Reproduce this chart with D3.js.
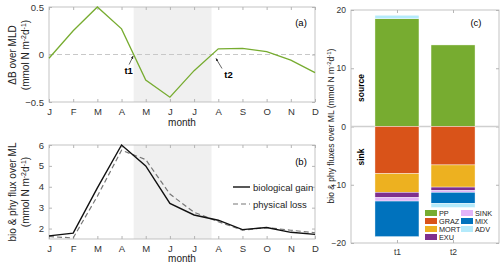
<!DOCTYPE html>
<html>
<head>
<meta charset="utf-8">
<script src="https://cdn.jsdelivr.net/npm/d3@7"></script>
<style>
  body { margin: 0; background: #fff; }
  svg text { font-family: "Liberation Sans", Arial, sans-serif; }
</style>
</head>
<body>
<div id="chart"></div>
<script>
// data
const months = ["J","F","M","A","M","J","J","A","S","O","N","D"];
const deltaB = [-0.04, 0.25, 0.5, 0.27, -0.27, -0.45, -0.17, 0.06, 0.065, 0.03, -0.06, -0.19];
const bioGain = [1.65, 1.78, 3.95, 6.0, 5.0, 3.2, 2.65, 2.4, 1.95, 2.05, 1.82, 1.72];
const phyLoss = [1.62, 1.55, 3.55, 5.75, 5.3, 3.65, 2.78, 2.33, 1.92, 2.05, 1.92, 1.8];
const t1 = 3.5, t2 = 6.72;
const timeLabels = ["t1", "t2"];
const fluxNames = ["PP", "GRAZ", "MORT", "EXU", "SINK", "MIX", "ADV"];
const fluxT1 = [18.5, -8.1, -3.2, -0.9, -0.6, -6.1, 0.6];
const fluxT2 = [14.0, -6.6, -3.8, -0.6, -0.3, -1.9, -0.7];
const fluxColors = ["#77AC30", "#D95319", "#EDB120", "#7E2F8E", "#E2B4F8", "#0072BD", "#B4EAFB"];

const W = 500, H = 268;
const frameCol = "#b5b5b5", tickTxt = "#333";

const svg = d3.select("#chart").append("svg")
  .attr("width", W).attr("height", H);

// helper to draw a boxed axes like matlab
function boxAxes(x, y, xTicks, xFmt, yTicks, yFmt) {
  const [x0, x1] = x.range(), [y1, y0] = y.range();
  const g = svg.append("g");
  const styleAx = sel => {
    sel.select(".domain").attr("stroke", "none");
    sel.selectAll(".tick line").attr("stroke", frameCol);
    sel.selectAll(".tick text").attr("fill", tickTxt).attr("font-size", 9.5);
  };
  g.append("g").attr("transform", `translate(0,${y1})`)
    .call(d3.axisBottom(x).tickValues(xTicks).tickFormat(xFmt).tickSizeInner(-3).tickSizeOuter(0).tickPadding(6))
    .call(styleAx);
  g.append("g").attr("transform", `translate(0,${y0})`)
    .call(d3.axisTop(x).tickValues(xTicks).tickFormat("").tickSizeInner(-3).tickSizeOuter(0))
    .call(styleAx);
  g.append("g").attr("transform", `translate(${x0},0)`)
    .call(d3.axisLeft(y).tickValues(yTicks).tickFormat(yFmt).tickSizeInner(-3).tickSizeOuter(0).tickPadding(5))
    .call(styleAx);
  g.append("g").attr("transform", `translate(${x1},0)`)
    .call(d3.axisRight(y).tickValues(yTicks).tickFormat("").tickSizeInner(-3).tickSizeOuter(0))
    .call(styleAx);
  g.append("rect").attr("x", x0).attr("y", y0).attr("width", x1 - x0).attr("height", y1 - y0)
    .attr("fill", "none").attr("stroke", frameCol).attr("stroke-width", 0.8);
  return g;
}

function unitLabel(sel) {
  sel.append("tspan").text("(mmol N m");
  sel.append("tspan").attr("baseline-shift", "super").attr("font-size", 7).text("-2");
  sel.append("tspan").text("d");
  sel.append("tspan").attr("baseline-shift", "super").attr("font-size", 7).text("-1");
  sel.append("tspan").text(")");
}

const mIdx = d3.range(12);
const xm = d3.scaleLinear().domain([0, 11]).range([49, 315]);

// panel (a)
const ya = d3.scaleLinear().domain([-0.5, 0.5]).range([102, 7]);
svg.append("rect").attr("x", xm(t1)).attr("y", 7).attr("width", xm(t2) - xm(t1)).attr("height", 95)
  .attr("fill", "#f0f0f0");
svg.append("line").attr("x1", xm(0)).attr("x2", xm(11)).attr("y1", ya(0)).attr("y2", ya(0))
  .attr("stroke", "#c8c8c8").attr("stroke-dasharray", "5,3").attr("stroke-width", 1);
boxAxes(xm, ya, mIdx, i => months[i], [-0.5, 0, 0.5], d => d === 0 ? "0" : d3.format(".1f")(d));
svg.append("path").datum(deltaB)
  .attr("d", d3.line().x((d, i) => xm(i)).y(d => ya(d)))
  .attr("fill", "none").attr("stroke", "#77AC30").attr("stroke-width", 1.3);

// arrows for t1,t2
svg.append("defs").append("marker").attr("id", "ah").attr("viewBox", "0 0 10 10")
  .attr("refX", 9).attr("refY", 5).attr("markerWidth", 4.5).attr("markerHeight", 4.5)
  .attr("orient", "auto").append("path").attr("d", "M0,1L10,5L0,9z").attr("fill", "#222");
// [time, head dx, head dy, tail dx, tail dy, label, label dx, label dy]
[[t1, -0.5, 1.5, -4.5, 10, "t1", -5, 19], [t2, 4.5, 4, 10.5, 14, "t2", 17, 23]].forEach(a => {
  const [t, hx, hy, tx, ty, lab, lx, ly] = a;
  const px = xm(t), py = ya(0);
  svg.append("line").attr("x1", px + tx).attr("y1", py + ty).attr("x2", px + hx).attr("y2", py + hy)
    .attr("stroke", "#222").attr("stroke-width", 0.7).attr("marker-end", "url(#ah)");
  svg.append("text").attr("x", px + lx).attr("y", py + ly).attr("text-anchor", "middle")
    .attr("font-size", 9.5).attr("font-weight", "bold").text(lab);
});
svg.append("text").attr("x", 301).attr("y", 26).attr("text-anchor", "middle").attr("font-size", 9.5).text("(a)");
svg.append("text").attr("x", (49 + 315) / 2).attr("y", 126).attr("text-anchor", "middle")
  .attr("font-size", 10).attr("fill", "#222").text("month");
const la = svg.append("text").attr("transform", `translate(16,55) rotate(-90)`)
  .attr("text-anchor", "middle").attr("font-size", 10).attr("fill", "#222");
la.append("tspan").attr("x", 0).attr("dy", 0).text("ΔB over MLD");
const la2 = svg.append("text").attr("transform", `translate(29,55) rotate(-90)`)
  .attr("text-anchor", "middle").attr("font-size", 10).attr("fill", "#222");
unitLabel(la2);

// panel (b)
const yb = d3.scaleLinear().domain([1.5, 6]).range([239, 145]);
svg.append("rect").attr("x", xm(t1)).attr("y", 145).attr("width", xm(t2) - xm(t1)).attr("height", 94)
  .attr("fill", "#f0f0f0");
boxAxes(xm, yb, mIdx, i => months[i], [2, 3, 4, 5, 6], d3.format("d"));
const lineB = d3.line().x((d, i) => xm(i)).y(d => yb(d));
svg.append("path").datum(phyLoss).attr("d", lineB)
  .attr("fill", "none").attr("stroke", "#777").attr("stroke-width", 1.2).attr("stroke-dasharray", "5,3");
svg.append("path").datum(bioGain).attr("d", lineB)
  .attr("fill", "none").attr("stroke", "#111").attr("stroke-width", 1.4);
svg.append("line").attr("x1", 233).attr("x2", 250).attr("y1", 187).attr("y2", 187)
  .attr("stroke", "#111").attr("stroke-width", 1.4);
svg.append("line").attr("x1", 233).attr("x2", 250).attr("y1", 204).attr("y2", 204)
  .attr("stroke", "#777").attr("stroke-width", 1.2).attr("stroke-dasharray", "5,3");
svg.append("text").attr("x", 253).attr("y", 190.5).attr("font-size", 9.5).attr("fill", "#222").text("biological gain");
svg.append("text").attr("x", 253).attr("y", 207.5).attr("font-size", 9.5).attr("fill", "#222").text("physical loss");
svg.append("text").attr("x", 301).attr("y", 165).attr("text-anchor", "middle").attr("font-size", 9.5).text("(b)");
svg.append("text").attr("x", (49 + 315) / 2).attr("y", 262).attr("text-anchor", "middle")
  .attr("font-size", 10).attr("fill", "#222").text("month");
const lb = svg.append("text").attr("transform", `translate(16,192) rotate(-90)`)
  .attr("text-anchor", "middle").attr("font-size", 10).attr("fill", "#222").text("bio & phy flux over ML");
const lb2 = svg.append("text").attr("transform", `translate(29,192) rotate(-90)`)
  .attr("text-anchor", "middle").attr("font-size", 10).attr("fill", "#222");
unitLabel(lb2);

// panel (c)
const yc = d3.scaleLinear().domain([-20, 20]).range([243, 10]);
const xc = d3.scalePoint().domain(timeLabels).range([351, 499]).padding(0.82);
const barW = 44;
const gc = boxAxes(xc, yc, timeLabels, d => d, [-20, -10, 0, 10, 20], d3.format("d"));
gc.selectAll(".tick text").attr("font-size", 8.5);
svg.append("line").attr("x1", 351).attr("x2", 499).attr("y1", yc(0)).attr("y2", yc(0))
  .attr("stroke", "#cfcfcf").attr("stroke-width", 1.5);

[fluxT1, fluxT2].forEach((vals, k) => {
  let pos = 0, neg = 0;
  vals.forEach((v, i) => {
    let a, b;
    if (v >= 0) { a = pos; b = pos + v; pos = b; } else { a = neg; b = neg + v; neg = b; }
    svg.append("rect")
      .attr("x", xc(timeLabels[k]) - barW / 2).attr("width", barW)
      .attr("y", yc(Math.max(a, b))).attr("height", Math.abs(yc(a) - yc(b)))
      .attr("fill", fluxColors[i]).attr("stroke", "#fff").attr("stroke-width", 0.4);
  });
});

svg.append("text").attr("transform", `translate(364,88) rotate(-90)`).attr("text-anchor", "middle")
  .attr("font-size", 8.5).attr("font-weight", "bold").text("source");
svg.append("text").attr("transform", `translate(364,157) rotate(-90)`).attr("text-anchor", "middle")
  .attr("font-size", 8.5).attr("font-weight", "bold").text("sink");
svg.append("text").attr("x", 476).attr("y", 26).attr("text-anchor", "middle").attr("font-size", 9.5).text("(c)");
const lc = svg.append("text").attr("transform", `translate(334,126) rotate(-90)`)
  .attr("text-anchor", "middle").attr("font-size", 8.5).attr("fill", "#222");
lc.append("tspan").text("bio & phy fluxes over ML ");
unitLabel(lc);
lc.selectAll("tspan[baseline-shift]").attr("font-size", 6);

// legend (c)
const legPos = [[425, 213], [425, 221], [425, 229], [425, 237], [461, 213], [461, 221], [461, 229]];
fluxNames.forEach((n, i) => {
  const [lx, ly] = legPos[i];
  svg.append("rect").attr("x", lx).attr("y", ly - 3).attr("width", 12).attr("height", 6)
    .attr("fill", fluxColors[i]);
  svg.append("text").attr("x", lx + 14).attr("y", ly + 2.7).attr("font-size", 7.3).attr("fill", "#222").text(n);
});
</script>
</body>
</html>
